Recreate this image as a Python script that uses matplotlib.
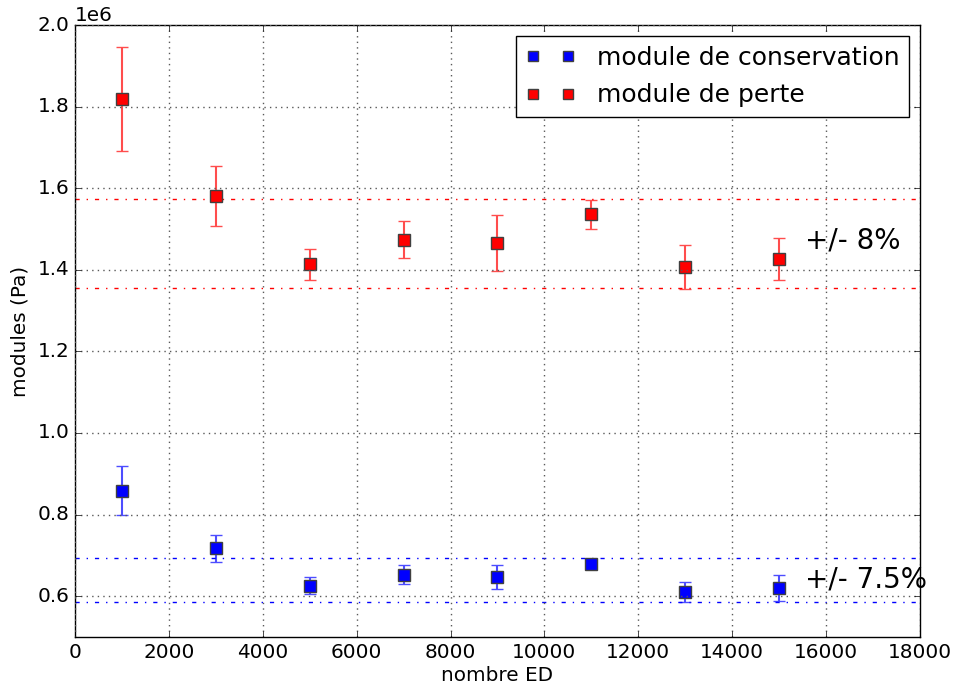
import matplotlib
matplotlib.use("Agg")
import matplotlib.pyplot as plt
from matplotlib.lines import Line2D

# Number of ED cycles
nombre_ed = [1000, 3000, 5000, 7000, 9000, 11000, 13000, 15000]

# Storage modulus (Pa) and its uncertainty
conservation = [0.858e6, 0.718e6, 0.626e6, 0.653e6, 0.647e6, 0.679e6, 0.610e6, 0.620e6]
conservation_err = [0.060e6, 0.033e6, 0.020e6, 0.024e6, 0.029e6, 0.012e6, 0.024e6, 0.033e6]

# Loss modulus (Pa) and its uncertainty
perte = [1.818e6, 1.581e6, 1.413e6, 1.474e6, 1.465e6, 1.536e6, 1.407e6, 1.426e6]
perte_err = [0.127e6, 0.074e6, 0.037e6, 0.045e6, 0.069e6, 0.035e6, 0.053e6, 0.052e6]

# Tolerance bands
bande_perte = [1.355e6, 1.573e6]
bande_conservation = [0.585e6, 0.693e6]

plt.style.use("classic")
fs = 14.4
fig = plt.figure(figsize=(9.57, 6.87), dpi=100, facecolor="white")
ax = fig.add_axes([0.0784, 0.0728, 0.8829, 0.8908])

marker_style = dict(marker="s", linestyle="none", markersize=8.2,
                    markeredgecolor="0.25", markeredgewidth=1)

ax.errorbar(nombre_ed, conservation, yerr=conservation_err, fmt="s", color="blue",
            ecolor=(0.3, 0.3, 1.0), elinewidth=1.5, capsize=4, markersize=8.2,
            markeredgecolor="0.25", markeredgewidth=1)
ax.errorbar(nombre_ed, perte, yerr=perte_err, fmt="s", color="red",
            ecolor=(1.0, 0.3, 0.3), elinewidth=1.5, capsize=4, markersize=8.2,
            markeredgecolor="0.25", markeredgewidth=1)

for v in bande_perte:
    ax.axhline(v, color="red", linestyle="-.", linewidth=1)
for v in bande_conservation:
    ax.axhline(v, color="blue", linestyle="-.", linewidth=1)

ax.text(15550, 1.473e6, "+/- 8%", fontsize=20, va="center", ha="left")
ax.text(15550, 0.640e6, "+/- 7.5%", fontsize=20, va="center", ha="left")

ax.set_xlim(0, 18000)
ax.set_ylim(0.5e6, 2.0e6)
ax.set_xticks(range(0, 18001, 2000))
ax.ticklabel_format(style="sci", axis="y", scilimits=(0, 0))
ax.yaxis.get_offset_text().set_fontsize(fs)
ax.grid(True, color="0.35", linestyle=":", linewidth=1)
ax.set_xlabel("nombre ED", fontsize=fs, labelpad=3)
ax.set_ylabel("modules (Pa)", fontsize=fs, labelpad=6)
ax.tick_params(labelsize=fs)

handles = [
    Line2D([], [], color="blue", markerfacecolor="blue", **marker_style),
    Line2D([], [], color="red", markerfacecolor="red", **marker_style),
]
leg = ax.legend(handles, ["module de conservation", "module de perte"],
                loc="upper right", numpoints=2, fontsize=18, fancybox=False,
                borderaxespad=0.42, borderpad=0.4, handlelength=2.0,
                handletextpad=0.85, labelspacing=0.55, markerscale=0.9)
leg.get_frame().set_edgecolor("black")

fig.savefig("out.png", dpi=100, facecolor="white")
